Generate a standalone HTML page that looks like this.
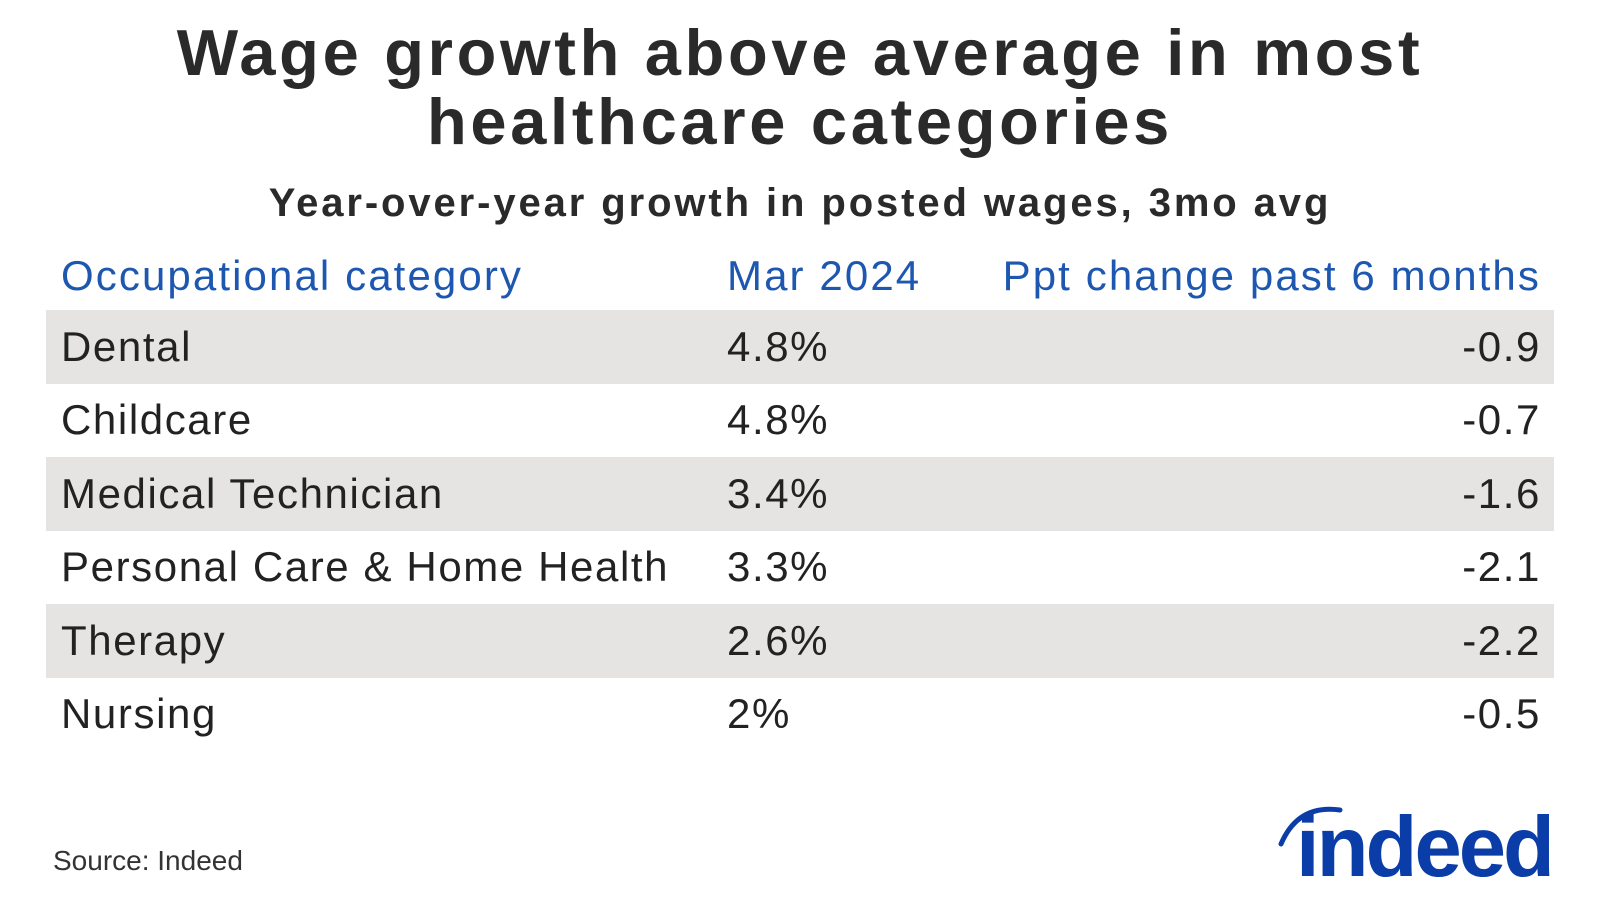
<!DOCTYPE html>
<html><head><meta charset="utf-8"><style>
body{margin:0;width:1600px;height:916px;background:#fff;font-family:"Liberation Sans",sans-serif;color:#222;position:relative;overflow:hidden}
.t{position:absolute;left:0;width:1600px;text-align:center;font-weight:bold}
.h{position:absolute;top:246px;font-size:42px;color:#1d57b0;line-height:60px;letter-spacing:2.1px}
.row{position:absolute;left:46px;width:1508px;height:74px;font-size:42px;line-height:74px;letter-spacing:1.6px}
.row.g{background:#e5e4e2}
.row span{position:absolute}
.c1{left:15px}.c2{left:681px}.c3{right:13px}
</style></head><body>
<div class="t" style="top:18px;font-size:65px;line-height:69px;color:#2a2a2a;letter-spacing:3.7px">Wage growth above average in most<br>healthcare categories</div>
<div class="t" style="top:178px;font-size:40px;line-height:50px;color:#2a2a2a;letter-spacing:2.9px">Year-over-year growth in posted wages, 3mo avg</div>
<div class="h" style="left:61px">Occupational category</div>
<div class="h" style="left:727px">Mar 2024</div>
<div class="h" style="right:59px">Ppt change past 6 months</div>
<div class="row g" style="top:310px"><span class="c1">Dental</span><span class="c2">4.8%</span><span class="c3">-0.9</span></div>
<div class="row" style="top:383px"><span class="c1">Childcare</span><span class="c2">4.8%</span><span class="c3">-0.7</span></div>
<div class="row g" style="top:457px"><span class="c1">Medical Technician</span><span class="c2">3.4%</span><span class="c3">-1.6</span></div>
<div class="row" style="top:530px"><span class="c1">Personal Care &amp; Home Health</span><span class="c2">3.3%</span><span class="c3">-2.1</span></div>
<div class="row g" style="top:604px"><span class="c1">Therapy</span><span class="c2">2.6%</span><span class="c3">-2.2</span></div>
<div class="row" style="top:677px"><span class="c1">Nursing</span><span class="c2">2%</span><span class="c3">-0.5</span></div>
<div style="position:absolute;left:53px;top:845px;font-size:28px;color:#333">Source: Indeed</div>
<svg style="position:absolute;left:1278px;top:796px" width="300" height="90">
<path d="M3,48 Q20,8 62,14" stroke="#0a3da8" stroke-width="5" fill="none" stroke-linecap="round"/>
<text x="18" y="80" font-family="Liberation Sans,sans-serif" font-weight="bold" font-size="85" fill="#0a3da8" letter-spacing="-3">indeed</text>
</svg>
</body></html>
